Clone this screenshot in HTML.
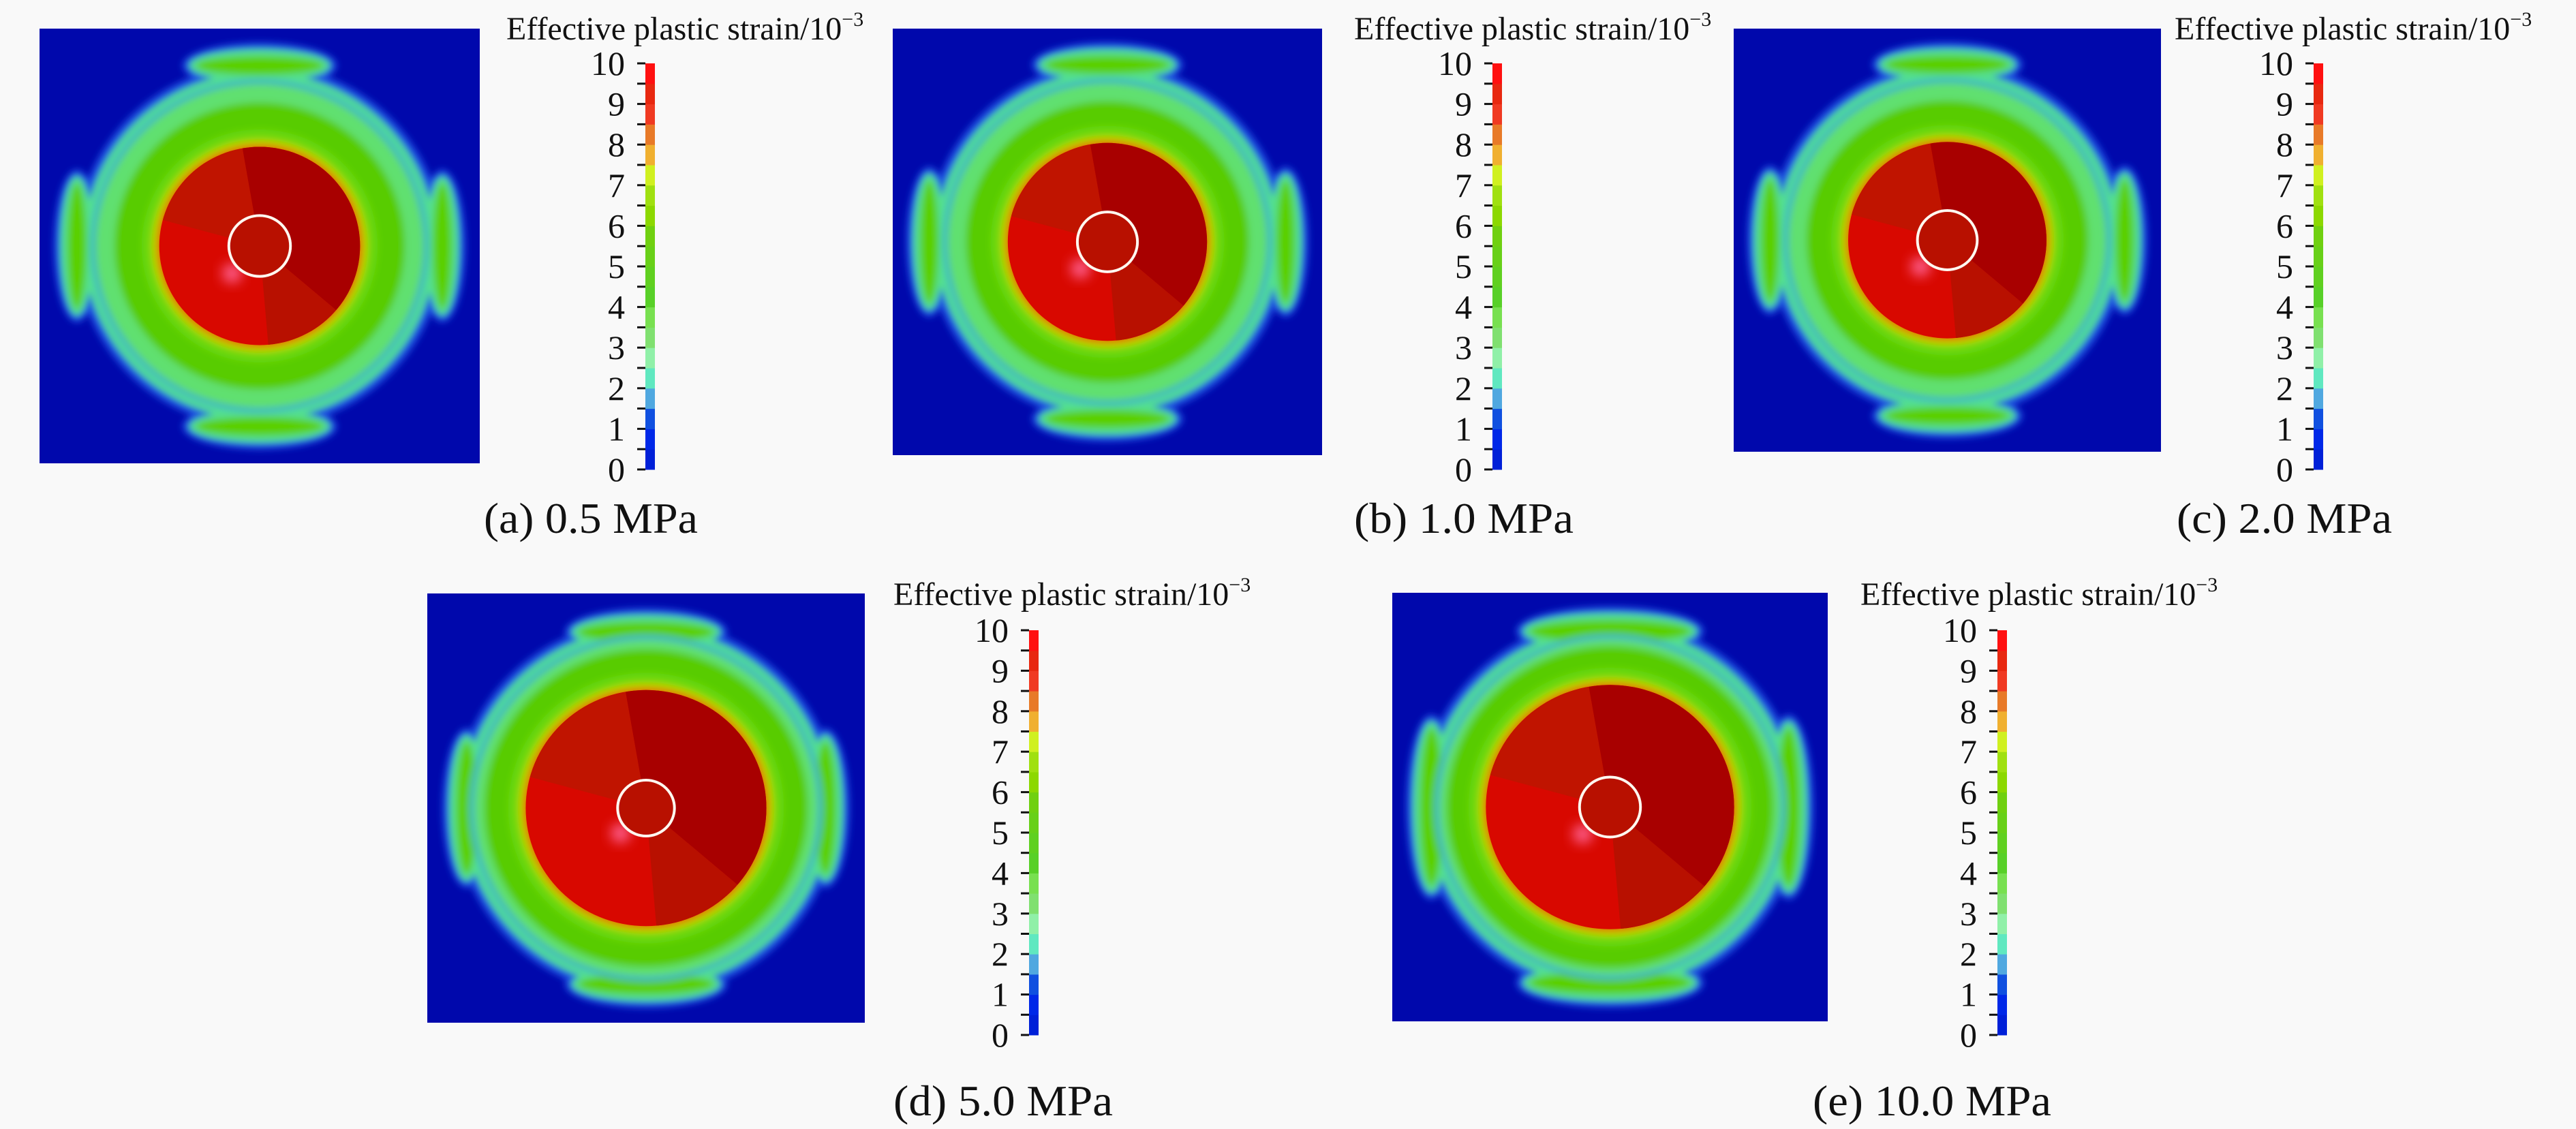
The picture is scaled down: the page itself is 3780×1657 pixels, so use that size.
<!DOCTYPE html>
<html><head><meta charset="utf-8">
<style>
html,body{margin:0;padding:0;background:#f9f9f9;width:3780px;height:1657px;overflow:hidden;}
svg{display:block;}
text{font-family:"Liberation Serif","Times New Roman",serif;fill:#111;}
</style></head>
<body>
<svg id="fig" width="3780" height="1657" viewBox="0 0 3780 1657" xmlns="http://www.w3.org/2000/svg">
<defs>
<filter id="blur" x="-10%" y="-10%" width="120%" height="120%"><feGaussianBlur stdDeviation="5"/></filter>
<filter id="blur2" x="-50%" y="-50%" width="200%" height="200%"><feGaussianBlur stdDeviation="9"/></filter>
</defs>
<rect x="0" y="0" width="3780" height="1657" fill="#f9f9f9"/>
</svg>
<script>
// ---- data ----
const panelLabels = ["(a) 0.5 MPa","(b) 1.0 MPa","(c) 2.0 MPa","(d) 5.0 MPa","(e) 10.0 MPa"];
const redRadius   = [0.228, 0.232, 0.232, 0.275, 0.285];   // plastic zone >=8e-3 (fraction of map)
const ringRadius  = [0.33, 0.33, 0.33, 0.37, 0.375];       // green zone outer
const outerRadius = [0.40, 0.40, 0.40, 0.42, 0.42];        // cyan zone outer
const lobeHalfW   = [0.16, 0.16, 0.16, 0.17, 0.2];
const lobeThick   = [0.075, 0.075, 0.075, 0.08, 0.085];
const lobeOffset  = [0.415, 0.415, 0.415, 0.41, 0.41];
const holeRadius  = [0.07, 0.07, 0.07, 0.065, 0.07];
const cbValues = [0,0.5,1,1.5,2,2.5,3,3.5,4,4.5,5,5.5,6,6.5,7,7.5,8,8.5,9,9.5,10];
const cbColors = ["#0020d8","#0028e8","#1050e0","#50a8e0","#60e8c0","#90f0a8","#80e070","#78e050","#58d028","#60d020",
                  "#68d018","#70d010","#8cd800","#a0e010","#d0f020","#f0b030","#e87a28","#f03a22","#e82810","#ff1010"];
const tickLabels = ["0","1","2","3","4","5","6","7","8","9","10"];
const cbTitle = "Effective plastic strain/10";
// ---- layout (pixels) ----
const layout = [
  {mx:58,my:42,mw:646,mh:638, cbx:947, cby0:93, cby1:689, tx:743, ty:58, cx:710, cy:782, cw:314},
  {mx:1310,my:42,mw:630,mh:626, cbx:2190, cby0:93, cby1:689, tx:1987, ty:58, cx:1987, cy:782, cw:322},
  {mx:2544,my:42,mw:627,mh:621, cbx:3395, cby0:93, cby1:689, tx:3191, ty:58, cx:3194, cy:782, cw:316},
  {mx:627,my:871,mw:642,mh:630, cbx:1510, cby0:925, cby1:1519, tx:1311, ty:888, cx:1311, cy:1637, cw:322},
  {mx:2043,my:870,mw:639,mh:629, cbx:2931, cby0:925, cby1:1519, tx:2730, ty:888, cx:2660, cy:1637, cw:350}
];
const NS="http://www.w3.org/2000/svg";
const svg=document.getElementById('fig');
function mk(tag,attrs,parent){const e=document.createElementNS(NS,tag);for(const k in attrs)e.setAttribute(k,attrs[k]);(parent||svg).appendChild(e);return e;}
function sector(cx,cy,r,a0,a1){const rad=Math.PI/180;return `M${cx},${cy} L${cx+r*Math.cos(a0*rad)},${cy+r*Math.sin(a0*rad)} A${r},${r} 0 ${(a1-a0)>180?1:0} 1 ${cx+r*Math.cos(a1*rad)},${cy+r*Math.sin(a1*rad)} Z`;}

layout.forEach((L,i)=>{
  const g=mk('g',{});
  
  
  const clipId='clip'+i;
  const cp=mk('clipPath',{id:clipId},g);
  mk('rect',{x:L.mx,y:L.my,width:L.mw,height:L.mh},cp);
  const map=mk('g',{'clip-path':`url(#${clipId})`},g);
  
  
  const bg=mk('rect',{x:L.mx,y:L.my,width:L.mw,height:L.mh,fill:'#0008ac'},map);
  
  
  const cx=L.mx+L.mw/2, cy=L.my+L.mh/2, W=L.mw, H=L.mh;
  const soft=mk('g',{filter:'url(#blur)'},map);
  const lobes=(s,fill,extra)=>{
    const hw=lobeHalfW[i]*W+extra, th=lobeThick[i]*H/2+extra, off=lobeOffset[i];
    mk('ellipse',{cx:cx,cy:cy-off*H,rx:hw,ry:th,fill:fill},s);
    mk('ellipse',{cx:cx,cy:cy+off*H,rx:hw,ry:th,fill:fill},s);
    mk('ellipse',{cx:cx-off*W,cy:cy,rx:lobeThick[i]*W/2+extra,ry:lobeHalfW[i]*H+extra,fill:fill},s);
    mk('ellipse',{cx:cx+off*W,cy:cy,rx:lobeThick[i]*W/2+extra,ry:lobeHalfW[i]*H+extra,fill:fill},s);
  };
  mk('ellipse',{cx:cx,cy:cy,rx:outerRadius[i]*W+12,ry:outerRadius[i]*H+12,fill:'#1a50e0'},soft);
  lobes(soft,'#1a50e0',10);
  mk('ellipse',{cx:cx,cy:cy,rx:outerRadius[i]*W,ry:outerRadius[i]*H,fill:'#52e090'},soft);
  lobes(soft,'#52e090',0);
  lobes(soft,'#5ad000',-10);
  mk('ellipse',{cx:cx,cy:cy,rx:outerRadius[i]*W-10,ry:outerRadius[i]*H-10,fill:'#3fb8c0'},soft);
  mk('ellipse',{cx:cx,cy:cy,rx:outerRadius[i]*W-18,ry:outerRadius[i]*H-18,fill:'#60e070'},soft);
  mk('ellipse',{cx:cx,cy:cy,rx:ringRadius[i]*W,ry:ringRadius[i]*H,fill:'#58cc00'},soft);
  const rr=redRadius[i];
  mk('ellipse',{cx:cx,cy:cy,rx:(rr+0.04)*W,ry:(rr+0.04)*H,fill:'#6ad810'},soft);
  mk('ellipse',{cx:cx,cy:cy,rx:(rr+0.018)*W,ry:(rr+0.018)*H,fill:'#b8d800'},soft);
  mk('ellipse',{cx:cx,cy:cy,rx:(rr+0.006)*W,ry:(rr+0.006)*H,fill:'#e07000'},soft);
  const red=mk('ellipse',{cx:cx,cy:cy,rx:rr*W,ry:rr*H,fill:'#d80800'},map);
  
  
  const rcp=mk('clipPath',{id:'rc'+i},g);
  mk('ellipse',{cx:cx,cy:cy,rx:rr*W,ry:rr*H},rcp);
  const rg=mk('g',{'clip-path':`url(#rc${i})`},map);
  mk('path',{d:sector(cx,cy,W,-100,40),fill:'#a80000'},rg);
  mk('path',{d:sector(cx,cy,W,-165,-100),fill:'#c01400'},rg);
  mk('path',{d:sector(cx,cy,W,40,85),fill:'#b81000'},rg);
  mk('circle',{cx:cx-holeRadius[i]*W*0.9,cy:cy+holeRadius[i]*H*0.9,r:14,fill:'#ff6090',filter:'url(#blur2)'},map);
  const hole=mk('ellipse',{cx:cx,cy:cy,rx:holeRadius[i]*W,ry:holeRadius[i]*H,fill:'#b81000',stroke:'#fff8f0','stroke-width':4},map);
  
  

  const cb=mk('g',{},g);
  
  
  const vmin=cbValues[0], vmax=cbValues[cbValues.length-1];
  const yOf=v=>L.cby1-(v-vmin)/(vmax-vmin)*(L.cby1-L.cby0);
  for(let k=0;k<cbColors.length;k++){
    const y0=yOf(cbValues[k+1]), y1=yOf(cbValues[k]);
    const seg=mk('rect',{x:L.cbx,y:y0,width:14,height:y1-y0+0.5,fill:cbColors[k]},cb);
    
    
  }
  cbValues.forEach(v=>{ mk('line',{x1:L.cbx-12,x2:L.cbx,y1:yOf(v),y2:yOf(v),stroke:'#111','stroke-width':3},cb); });
  tickLabels.forEach(t=>{
    const tx=mk('text',{x:L.cbx-30,y:yOf(parseFloat(t))+17,'font-size':50,'text-anchor':'end'},cb);
    tx.textContent=t;
    
    
  });
  const title=mk('text',{x:L.tx,y:L.ty,'font-size':48},g);
  
  
  const t1=mk('tspan',{},title); t1.textContent=cbTitle;
  const t2=mk('tspan',{dy:-20,'font-size':30},title); t2.textContent="−3";
  const cap=mk('text',{x:L.cx,y:L.cy,'font-size':64,textLength:L.cw,lengthAdjust:'spacingAndGlyphs'},g);
  cap.textContent=panelLabels[i];
  
  
});
</script>
</body></html>
